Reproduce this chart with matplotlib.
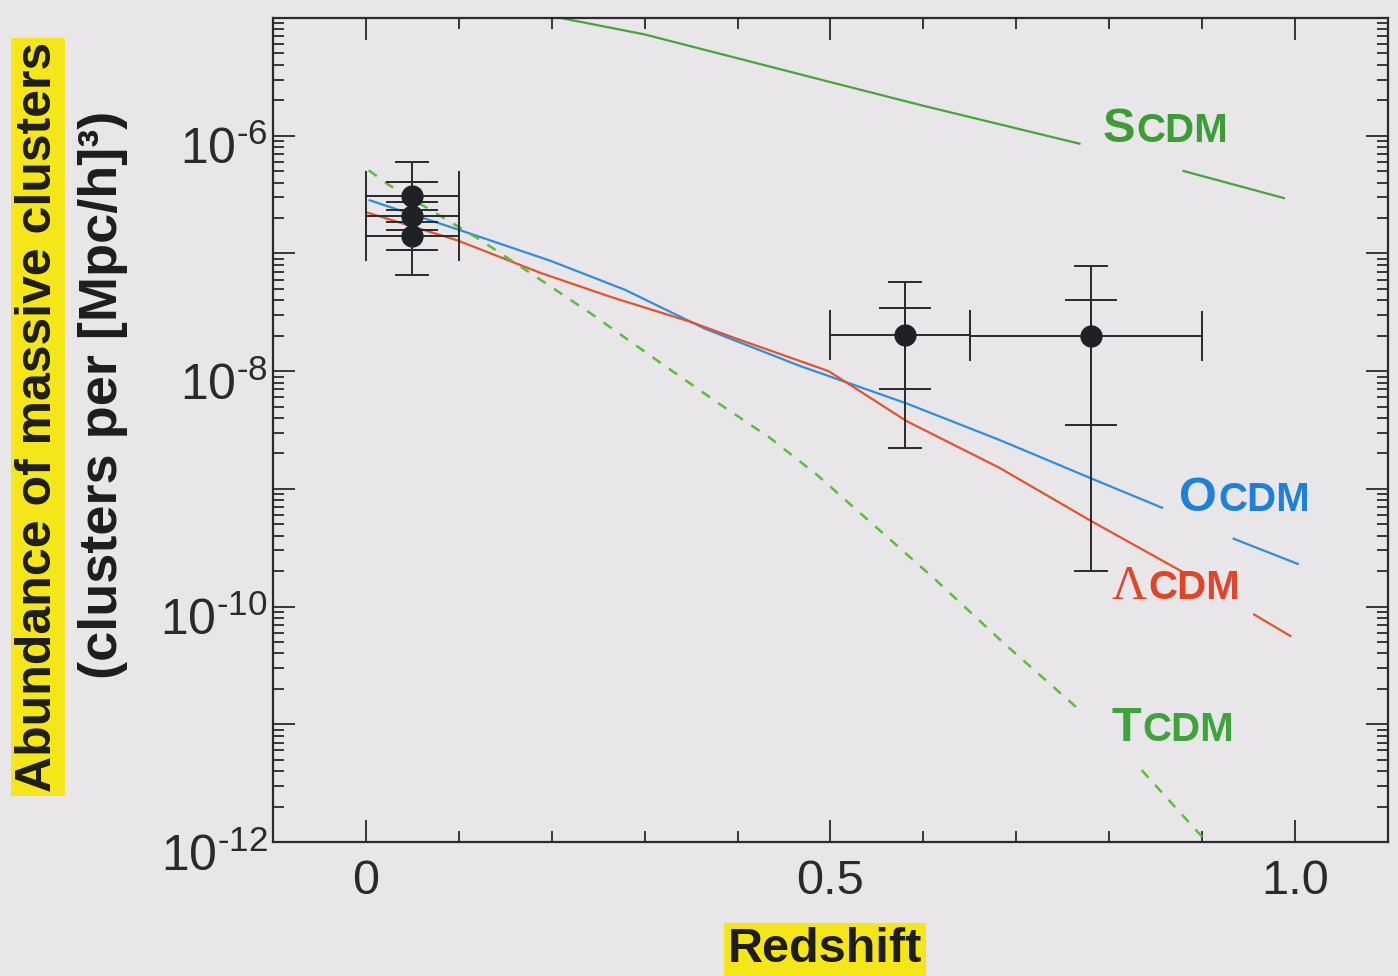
import numpy as np
import matplotlib
matplotlib.use("Agg")
import matplotlib.pyplot as plt
from matplotlib.offsetbox import TextArea, HPacker, AnnotationBbox
from matplotlib.ticker import LogLocator, MultipleLocator, NullFormatter, FuncFormatter
from matplotlib.transforms import ScaledTranslation

plt.rcParams['font.family'] = ['Liberation Sans', 'DejaVu Sans']
plt.rcParams['mathtext.default'] = 'regular'

BG = '#e9e6ea'
INK = '#2a2a2c'

# model curves: redshift and log10 abundance (nan = gap left for the label)
scdm_z = [0.207, 0.30, 0.50, 0.60, 0.768, np.nan, 0.88, 0.988]
scdm_log = [-4.996, -5.14, -5.545, -5.746, -6.068, np.nan, -6.30, -6.53]

ocdm_z = [0.004, 0.098, 0.199, 0.279, 0.365, 0.466, 0.581, 0.682, 0.779, 0.857, np.nan, 0.934, 1.003]
ocdm_log = [-6.549, -6.794, -7.064, -7.31, -7.64, -7.953, -8.272, -8.585, -8.906, -9.161, np.nan, -9.424, -9.638]

lcdm_z = [0.001, 0.098, 0.188, 0.264, 0.35, 0.398, 0.498, 0.582, 0.682, 0.78, 0.88, np.nan, 0.956, 0.995]
lcdm_log = [-6.652, -6.888, -7.166, -7.371, -7.583, -7.722, -8.0, -8.425, -8.822, -9.271, -9.71, np.nan, -10.068, -10.25]

tcdm_z = [0.003, 0.025, 0.123, 0.182, 0.242, 0.315, 0.377, 0.435, 0.486, 0.540, 0.612, 0.685, 0.769, np.nan, 0.835, 0.905]
tcdm_log = [-6.294, -6.42, -6.885, -7.193, -7.51, -7.918, -8.26, -8.568, -8.885, -9.262, -9.765, -10.3, -10.886, np.nan, -11.39, -12.0]

# observed clusters: redshift range and abundance with inner / outer error bars (log10)
obs_z = [0.05, 0.05, 0.05, 0.58, 0.78]
obs_zlo = [0.0, 0.0, 0.0, 0.50, 0.65]
obs_zhi = [0.10, 0.10, 0.10, 0.65, 0.90]
obs_log = [-6.51, -6.68, -6.85, -7.69, -7.70]
inner_lo = [-6.63, -6.80, -6.97, -8.15, -8.46]
inner_hi = [-6.39, -6.56, -6.73, -7.46, -7.40]
outer_lo = [-6.80, -6.97, -7.18, -8.65, -9.70]
outer_hi = [-6.22, -6.39, -6.56, -7.24, -7.11]

fig = plt.figure(figsize=(13.98, 9.76), dpi=100, facecolor=BG)
ax = fig.add_axes([0.1953, 0.1373, 0.7975, 0.8443], facecolor=BG)

ax.plot(scdm_z, 10 ** np.array(scdm_log), color='#46a53a', lw=1.6)
ax.plot(ocdm_z, 10 ** np.array(ocdm_log), color='#2b8fe0', lw=1.6)
ax.plot(lcdm_z, 10 ** np.array(lcdm_log), color='#e4532c', lw=1.6)
ax.plot(tcdm_z, 10 ** np.array(tcdm_log), color='#5cbd3c', lw=1.8, ls=(0, (4, 4)))

y = 10 ** np.array(obs_log)
z = np.array(obs_z)
xerr = [z - np.array(obs_zlo), np.array(obs_zhi) - z]
yerr_in = [y - 10 ** np.array(inner_lo), 10 ** np.array(inner_hi) - y]
yerr_out = [y - 10 ** np.array(outer_lo), 10 ** np.array(outer_hi) - y]
ax.errorbar(z, y, xerr=xerr, fmt='none', ecolor=INK, elinewidth=1.4, capsize=18, capthick=1.4, zorder=4)
ax.errorbar(z, y, yerr=yerr_out, fmt='none', ecolor=INK, elinewidth=1.4, capsize=12, capthick=1.4, zorder=4)
ax.errorbar(z, y, yerr=yerr_in, fmt='none', ecolor=INK, elinewidth=1.4, capsize=18.5, capthick=1.4, zorder=4)
ax.plot(z, y, 'o', color='#1e2226', ms=15, zorder=5)

ax.set_yscale('log')
ax.set_xlim(-0.1, 1.1)
ax.set_ylim(1e-12, 1e-5)
ax.set_xticks([0, 0.5, 1.0])
ax.set_xticklabels(['0', '0.5', '1.0'])
ax.xaxis.set_minor_locator(MultipleLocator(0.1))
ax.yaxis.set_major_locator(LogLocator(base=10, numticks=20))
ax.yaxis.set_minor_locator(LogLocator(base=10, subs=np.arange(2, 10), numticks=20))
ax.yaxis.set_minor_formatter(NullFormatter())


def dec_label(v, pos):
    e = int(round(np.log10(v)))
    # hyphen rather than a long minus, as in the printed figure
    return '$10^{\u2010%d}$' % -e if e % 2 == 0 else ''


ax.yaxis.set_major_formatter(FuncFormatter(dec_label))
ax.tick_params(which='both', direction='in', top=True, right=True, color=INK, width=1.3)
ax.tick_params(which='major', length=16)
ax.tick_params(which='minor', length=8)
ax.tick_params(axis='x', labelsize=35, pad=12, labelcolor=INK)
ax.tick_params(axis='y', labelsize=36, pad=4, labelcolor=INK)
for s in ax.spines.values():
    s.set_color(INK)
    s.set_linewidth(1.6)


def model_label(x, logy, first, rest, color, first_family=None, first_weight='bold'):
    tp = dict(color=color, size=35, weight=first_weight)
    if first_family:
        tp['family'] = first_family
    a = TextArea(first, textprops=tp)
    b = TextArea(rest, textprops=dict(color=color, size=29, weight='bold'))
    box = HPacker(children=[a, b], align='baseline', pad=0, sep=1)
    ab = AnnotationBbox(box, (x, 10 ** logy), xycoords='data', box_alignment=(0, 0),
                        frameon=False, pad=0)
    ax.add_artist(ab)


model_label(0.793, -6.14, 'S', 'CDM', '#3c9d35')
model_label(0.875, -9.27, 'O', 'CDM', '#1f80d8')
model_label(0.803, -10.02, 'Λ', 'CDM', '#e0452a', first_family='Liberation Serif', first_weight='normal')
model_label(0.802, -11.23, 'T', 'CDM', '#3da33a')

hl = dict(boxstyle='square,pad=0.08', fc='#f5e61a', ec='none')
fig.text(0.027, 0.573, 'Abundance of massive clusters', rotation=90, ha='center', va='center',
         fontsize=36, weight='bold', color='#1d1d1d', bbox=hl)
fig.text(0.0737, 0.595, '(clusters per [Mpc/h]³)', rotation=90, ha='center', va='center',
         fontsize=39, weight='bold', color='#1d1d1d')
fig.text(0.590, 0.027, 'Redshift', ha='center', va='center',
         fontsize=35, weight='bold', color='#1d1d1d', bbox=hl)

# the printed decade labels sit a little below their ticks
fig.canvas.draw()
shift = ScaledTranslation(0, -7 / 72, fig.dpi_scale_trans)
for t in ax.yaxis.get_major_ticks():
    t.label1.set_transform(t.label1.get_transform() + shift)

fig.savefig('out.png', dpi=100, facecolor=BG)
